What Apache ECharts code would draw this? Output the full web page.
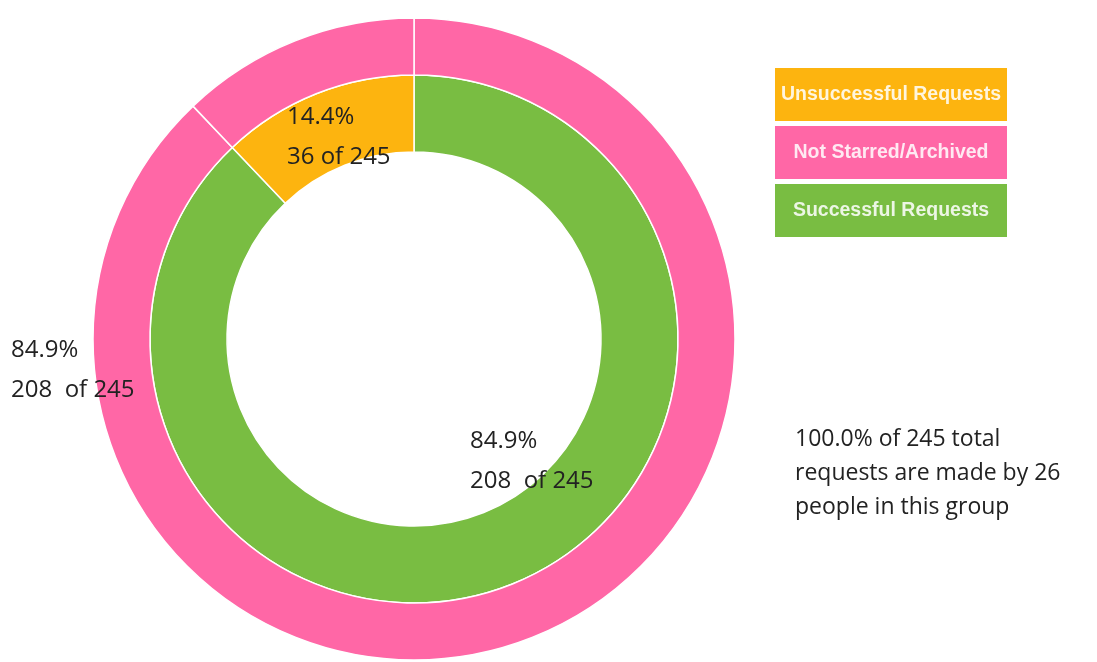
<!DOCTYPE html>
<html>
<head>
<meta charset="utf-8">
<script src="https://cdn.jsdelivr.net/npm/echarts@6/dist/echarts.min.js"></script>
<style>
html,body{margin:0;padding:0;background:#fff;}
#chart{width:1097px;height:662px;}
</style>
</head>
<body>
<div id="chart"></div>
<script>
// ---- data ----
var innerNames = ['Successful Requests', 'Unsuccessful Requests'];
var innerSlices = [215.4, 29.6];            // slice sizes as drawn (angle)
var innerPercents = ['84.9%', '14.4%'];
var innerCounts = ['208  of', '36 of'];

var outerNames = ['Not Starred/Archived', 'Not Starred/Archived'];
var outerSlices = [215.4, 29.6];
var outerPercents = ['84.9%', ''];
var outerCounts = ['208  of', ''];

var total = 245;
var people = 26;

var legendNames = ['Unsuccessful Requests', 'Not Starred/Archived', 'Successful Requests'];
var colors = {
  'Unsuccessful Requests': '#FDB40F',
  'Not Starred/Archived': '#FF67A6',
  'Successful Requests': '#79BD42'
};

var chart = echarts.init(document.getElementById('chart'), null, {renderer: 'canvas'});

function labelText(pcts, counts) {
  return function (p) {
    if (!pcts[p.dataIndex]) return '';
    return pcts[p.dataIndex] + '\n' + counts[p.dataIndex] + ' ' + total;
  };
}

var labelStyle = {
  show: true,
  color: '#222',
  fontFamily: 'Open Sans',
  fontSize: 24,
  lineHeight: 40,
  align: 'left'
};

// label anchor positions (left edge, vertical middle)
var innerLabelPos = [[470, 461], [287, 137]];
var outerLabelPos = [[11, 370], null];

var option = {
  animation: false,
  backgroundColor: '#fff',
  title: {
    text: (100).toFixed(1) + '% of ' + total + ' total\nrequests are made by ' + people + '\npeople in this group',
    left: 790,
    top: 417,
    textStyle: {
      fontFamily: 'Open Sans',
      fontWeight: 'normal',
      fontSize: 23,
      lineHeight: 34,
      color: '#222'
    }
  },
  legend: {
    orient: 'vertical',
    left: 764,
    top: 63,
    itemGap: 5,
    itemWidth: 0,
    itemHeight: 0,
    icon: 'rect',
    selectedMode: false,
    formatter: function (name) { return '{b|' + name + '}'; },
    data: legendNames.map(function (n) {
      return {
        name: n,
        itemStyle: {opacity: 0},
        textStyle: {
          rich: {
            b: {
              backgroundColor: colors[n],
              color: 'rgba(255,255,255,0.86)',
              fontFamily: 'Liberation Sans',
              fontWeight: 'bold',
              fontSize: 19.5,
              width: 232,
              height: 53,
              lineHeight: 53,
              align: 'center'
            }
          }
        }
      };
    })
  },
  series: [
    {
      name: 'inner',
      type: 'pie',
      center: [414, 339],
      radius: [187, 264],
      startAngle: 90,
      clockwise: true,
      avoidLabelOverlap: false,
      itemStyle: {borderColor: '#fff', borderWidth: 1.5},
      label: Object.assign({position: 'inside', formatter: labelText(innerPercents, innerCounts)}, labelStyle),
      labelLine: {show: false},
      labelLayout: function (p) {
        var pos = innerLabelPos[p.dataIndex];
        return {x: pos[0], y: pos[1], align: 'left', verticalAlign: 'middle'};
      },
      emphasis: {disabled: true},
      data: innerNames.map(function (n, i) {
        return {name: n, value: innerSlices[i], itemStyle: {color: colors[n]}};
      })
    },
    {
      name: 'outer',
      type: 'pie',
      center: [414, 339],
      radius: [264, 321],
      startAngle: 90,
      clockwise: true,
      avoidLabelOverlap: false,
      itemStyle: {borderColor: '#fff', borderWidth: 1.5},
      label: Object.assign({position: 'inside', formatter: labelText(outerPercents, outerCounts)}, labelStyle),
      labelLine: {show: false},
      labelLayout: function (p) {
        var pos = outerLabelPos[p.dataIndex];
        if (!pos) return {x: -100, y: -100};
        return {x: pos[0], y: pos[1], align: 'left', verticalAlign: 'middle'};
      },
      emphasis: {disabled: true},
      data: outerNames.map(function (n, i) {
        return {name: n, value: outerSlices[i], itemStyle: {color: colors[n]}};
      })
    }
  ]
};
chart.setOption(option);
</script>
</body>
</html>
